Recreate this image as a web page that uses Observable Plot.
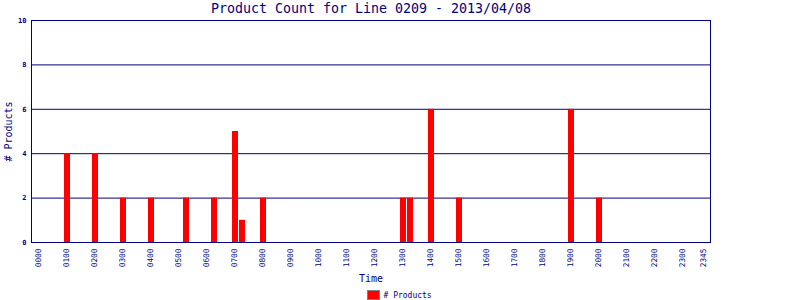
<!DOCTYPE html>
<html>
<head>
<meta charset="utf-8">
<script src="https://cdn.jsdelivr.net/npm/d3@7"></script>
<script src="https://cdn.jsdelivr.net/npm/@observablehq/plot@0.6"></script>
<style>
  html, body { margin: 0; padding: 0; background: #fff; }
</style>
</head>
<body>
<div id="chart"></div>
<script>
const titleText = "Product Count for Line 0209 - 2013/04/08";
const hours = ["00","01","02","03","04","05","06","07","08","09","10","11","12","13","14","15","16","17","18","19","20","21","22","23"];
const quarters = ["00","15","30","45"];
const slots = hours.flatMap(h => quarters.map(q => h + q));
const xTickLabels = ["0000","0100","0200","0300","0400","0500","0600","0700","0800","0900","1000","1100","1200","1300","1400","1500","1600","1700","1800","1900","2000","2100","2200","2300","2345"];
const times  = ["0100","0200","0300","0400","0515","0615","0700","0715","0800","1300","1315","1400","1500","1900","2000"];
const counts = [4, 4, 2, 2, 2, 2, 5, 1, 2, 2, 2, 6, 2, 6, 2];
const yTicks = [0, 2, 4, 6, 8, 10];
const gridValues = [2, 4, 6, 8];
const seriesName = "# Products";

const navy = "#000080";
const data = times.map((t, i) => ({time: t, count: counts[i]}));

const chart = Plot.plot({
  width: 800,
  height: 300,
  marginTop: 20,
  marginBottom: 58,
  marginLeft: 31,
  marginRight: 90,
  style: {fontFamily: "DejaVu Sans Mono", background: "#fff", color: navy},
  x: {type: "band", domain: slots, paddingInner: 1/7, paddingOuter: 0.571, align: 0.625, axis: null},
  y: {domain: [0, 10], axis: null},
  marks: [
    Plot.ruleY(gridValues, {stroke: navy, strokeWidth: 1}),
    Plot.barY(data, {x: "time", y: "count", fill: "red"}),
    Plot.frame({stroke: navy}),
    Plot.axisY(yTicks, {tickSize: 0, tickPadding: 5, fontSize: 7, fontWeight: "bold", color: navy, label: null}),
    Plot.text(xTickLabels, {x: d => d, frameAnchor: "bottom", rotate: -90, textAnchor: "end", lineAnchor: "middle", dx: -1.5, dy: 6, fontSize: 7.8, fill: navy}),
    Plot.text([titleText], {frameAnchor: "top", lineAnchor: "middle", dy: -12, fontSize: 13.3, fill: navy}),
    Plot.text(["Time"], {frameAnchor: "bottom", lineAnchor: "middle", dy: 36, fontSize: 10, fill: navy}),
    Plot.text([seriesName], {frameAnchor: "left", textAnchor: "middle", lineAnchor: "middle", dx: -23, rotate: -90, fontSize: 10, fill: navy}),
    Plot.text([seriesName], {frameAnchor: "bottom", textAnchor: "start", lineAnchor: "middle", dx: 12.5, dy: 53, fontSize: 8, fill: navy})
  ]
});

// legend swatch
d3.select(chart).append("rect")
  .attr("x", 367.5).attr("y", 290.5)
  .attr("width", 12).attr("height", 9)
  .attr("fill", "red").attr("stroke", "#808080");

document.getElementById("chart").appendChild(chart);
</script>
</body>
</html>
